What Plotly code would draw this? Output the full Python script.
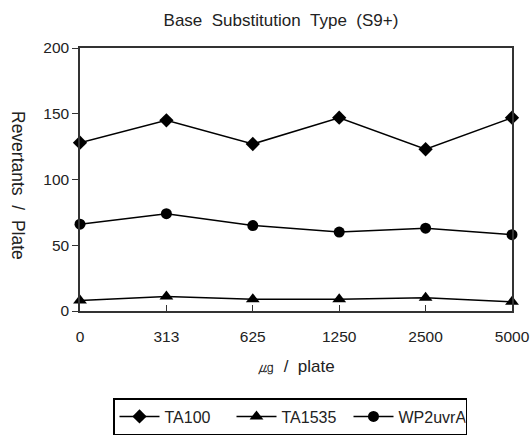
import plotly.graph_objects as go

doses = ["0", "313", "625", "1250", "2500", "5000"]
ta100 = [128, 145, 127, 147, 123, 147]
ta1535 = [8, 11, 9, 9, 10, 7]
wp2uvra = [66, 74, 65, 60, 63, 58]

font = "Liberation Sans, Arial, sans-serif"
S = "\u00a0\u00a0"

fig = go.Figure()
series = [
    ("TA100", ta100, "diamond", 11),
    ("TA1535", ta1535, "triangle-up", 12),
    ("WP2uvrA", wp2uvra, "circle", 11),
]
for name, vals, sym, sz in series:
    fig.add_trace(go.Scatter(
        x=doses, y=vals, name=name, mode="lines+markers",
        line=dict(color="black", width=1.5),
        marker=dict(symbol=sym, size=sz, color="black"),
        cliponaxis=False,
    ))

fig.update_layout(
    width=530, height=435,
    margin=dict(l=80, r=18, t=48, b=124, autoexpand=False),
    paper_bgcolor="white", plot_bgcolor="white",
    font=dict(family=font, size=15.5, color="#222"),
    title=dict(text=f"Base{S}Substitution{S}Type{S}(S9+)", x=(281 - 80) / 432,
               xref="paper", xanchor="center",
               y=1 - 20 / 435, yref="container", yanchor="middle",
               font=dict(size=17, color="#222")),
    showlegend=True,
    legend=dict(orientation="h", x=(290 - 80) / 432, xanchor="center",
                yref="container", y=(435 - 398) / 435, yanchor="top",
                bordercolor="black", borderwidth=1.5, bgcolor="white",
                font=dict(size=16, color="#222"), itemwidth=40,
                entrywidth=62, entrywidthmode="pixels",
                tracegroupgap=0),
)
fig.update_xaxes(
    type="category", range=[0, 5], showline=True, linecolor="#333", linewidth=1.5,
    mirror=True, ticks="inside", ticklen=6, tickcolor="#333", showgrid=False,
    zeroline=False, ticklabelstandoff=11, automargin=False,
    title=dict(text=f"㎍{S}/{S}plate", standoff=16, font=dict(size=17)),
)
fig.update_yaxes(
    range=[0, 200], tickvals=[0, 50, 100, 150, 200], showline=True, linecolor="#333",
    linewidth=1.5, mirror=True, ticks="outside", ticklen=6, tickcolor="#333",
    showgrid=False, zeroline=False, automargin=False,
)
fig.add_annotation(
    text=f"Revertants{S}/{S}Plate", textangle=90, xref="paper", yref="paper",
    x=(18 - 80) / 432, y=(311 - 185) / 263, xanchor="center", yanchor="middle",
    showarrow=False, font=dict(size=17.5, color="#222"),
)
fig.write_html("out.html", post_script="document.body.style.margin='0';",
               config={"displayModeBar": False})
